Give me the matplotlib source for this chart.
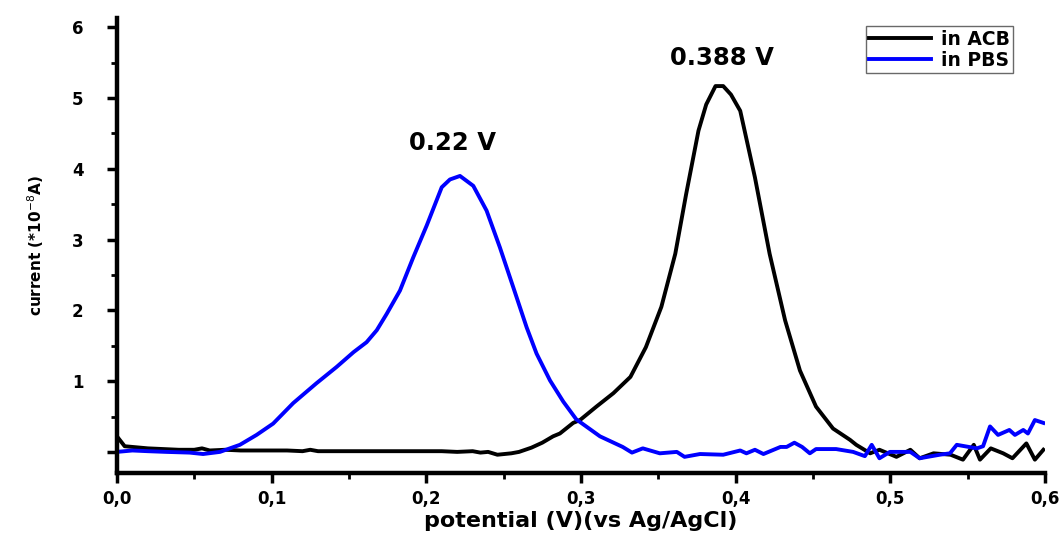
import numpy as np
import matplotlib
matplotlib.use('Agg')
import matplotlib.pyplot as plt
from matplotlib.ticker import MultipleLocator, FuncFormatter

# in ACB (black)
acb_x = [0.0, 0.005, 0.01, 0.02, 0.03, 0.04, 0.05, 0.055, 0.06, 0.07, 0.08, 0.09, 0.1,
         0.11, 0.12, 0.125, 0.13, 0.14, 0.15, 0.16, 0.17, 0.18, 0.19, 0.2, 0.21, 0.22,
         0.23, 0.235, 0.24, 0.246, 0.255, 0.26, 0.268, 0.275, 0.282, 0.2864, 0.295,
         0.2994, 0.31, 0.321, 0.332, 0.342, 0.352, 0.361, 0.368, 0.376, 0.381, 0.387,
         0.392, 0.397, 0.403, 0.4125, 0.422, 0.432, 0.4416, 0.452, 0.463, 0.474, 0.478,
         0.487, 0.493, 0.504, 0.513, 0.519, 0.528, 0.539, 0.547, 0.554, 0.558, 0.565,
         0.573, 0.579, 0.588, 0.5935, 0.599]
acb_y = [0.22, 0.08, 0.07, 0.05, 0.04, 0.03, 0.03, 0.05, 0.02, 0.03, 0.02, 0.02, 0.02,
         0.02, 0.01, 0.03, 0.01, 0.01, 0.01, 0.01, 0.01, 0.01, 0.01, 0.01, 0.01, 0.0,
         0.01, -0.01, 0.0, -0.04, -0.02, 0.0, 0.06, 0.13, 0.22, 0.26, 0.41,
         0.45, 0.64, 0.83, 1.06, 1.48, 2.05, 2.8, 3.64, 4.54, 4.91, 5.17,
         5.17, 5.05, 4.82, 3.88, 2.8, 1.86, 1.15, 0.64, 0.33, 0.17, 0.1,
         -0.02, 0.03, -0.07, 0.03, -0.09, -0.02, -0.04, -0.11, 0.1, -0.11, 0.05,
         -0.02, -0.09, 0.12, -0.11, 0.03]

# in PBS (blue)
pbs_x = [0.0, 0.01, 0.02, 0.032, 0.047, 0.0557, 0.063, 0.0666, 0.0795, 0.0903, 0.101,
         0.114, 0.129, 0.142, 0.153, 0.1614, 0.168, 0.1744, 0.183, 0.1916, 0.2003,
         0.21, 0.2153, 0.2218, 0.2304, 0.239, 0.2476, 0.2562, 0.2649, 0.2713, 0.28,
         0.2886, 0.297, 0.3123, 0.327, 0.333, 0.34, 0.351, 0.362, 0.367, 0.377, 0.392,
         0.403, 0.407, 0.4125, 0.418, 0.429, 0.433, 0.438, 0.443, 0.448, 0.452, 0.465,
         0.476, 0.4836, 0.488, 0.493, 0.4998, 0.513, 0.519, 0.532, 0.5386, 0.543,
         0.556, 0.56, 0.5645, 0.5697, 0.577, 0.5806, 0.586, 0.589, 0.5935, 0.599]
pbs_y = [0.0, 0.02, 0.01, 0.0, -0.01, -0.03, -0.01, 0.0, 0.1, 0.24, 0.4,
         0.69, 0.97, 1.2, 1.41, 1.55, 1.72, 1.95, 2.28, 2.75, 3.2,
         3.74, 3.85, 3.9, 3.76, 3.41, 2.89, 2.33, 1.76, 1.39, 1.01,
         0.71, 0.46, 0.22, 0.07, -0.01, 0.05, -0.02, 0.0, -0.07, -0.03, -0.04,
         0.02, -0.02, 0.03, -0.03, 0.07, 0.07, 0.13, 0.07, -0.02, 0.04, 0.04,
         0.0, -0.06, 0.1, -0.09, 0.0, 0.0, -0.09, -0.04, -0.02, 0.1,
         0.05, 0.08, 0.36, 0.24, 0.31, 0.24, 0.31, 0.26, 0.45, 0.41]

peak_labels = ['0.22 V', '0.388 V']
peak_pos = [(0.217, 4.37), (0.391, 5.56)]

plt.rcParams['font.family'] = ['DejaVu Sans']

fig = plt.figure(figsize=(10.63, 5.34), dpi=100)
ax = fig.add_axes([0.110, 0.114, 0.873, 0.852])

ax.plot(acb_x, acb_y, color='black', lw=2.8, label='in ACB')
ax.plot(pbs_x, pbs_y, color='#0000ff', lw=2.8, label='in PBS')

for txt, (px, py) in zip(peak_labels, peak_pos):
    ax.text(px, py, txt, ha='center', va='center', fontsize=17.5, fontweight='bold')

ax.set_xlim(0, 0.6)
ax.set_ylim(-0.3, 6.13)
ax.xaxis.set_major_locator(MultipleLocator(0.1))
ax.xaxis.set_minor_locator(MultipleLocator(0.05))
ax.yaxis.set_major_locator(MultipleLocator(1))
ax.yaxis.set_minor_locator(MultipleLocator(0.5))
ax.xaxis.set_major_formatter(FuncFormatter(lambda v, p: f'{v:.1f}'.replace('.', ',')))
ax.yaxis.set_major_formatter(FuncFormatter(lambda v, p: '' if abs(v) < 1e-9 else f'{v:.0f}'))

for s in ['top', 'right']:
    ax.spines[s].set_visible(False)
for s in ['left', 'bottom']:
    ax.spines[s].set_linewidth(3.2)

ax.tick_params(which='major', direction='out', length=7, width=2.5, labelsize=12)
ax.tick_params(axis='x', which='major', pad=5)
ax.tick_params(axis='y', which='major', pad=17)
ax.tick_params(which='minor', direction='out', length=4, width=2)
for lab in ax.get_xticklabels() + ax.get_yticklabels():
    lab.set_fontweight('bold')

ax.set_xlabel('potential (V)(vs Ag/AgCl)', fontsize=16, fontweight='bold', labelpad=2)
ax.set_ylabel('current (*10$^{-8}$A)', fontsize=11, fontweight='bold', labelpad=19)

leg = ax.legend(loc='upper right', bbox_to_anchor=(0.972, 0.995), frameon=True, fancybox=False,
                edgecolor='#444444', prop={'weight': 'bold', 'size': 13.5},
                handlelength=3.3, borderpad=0.2, labelspacing=0.1, handletextpad=0.5,
                borderaxespad=0.3)
leg.get_frame().set_linewidth(1.0)

fig.savefig('out.png', dpi=100)
